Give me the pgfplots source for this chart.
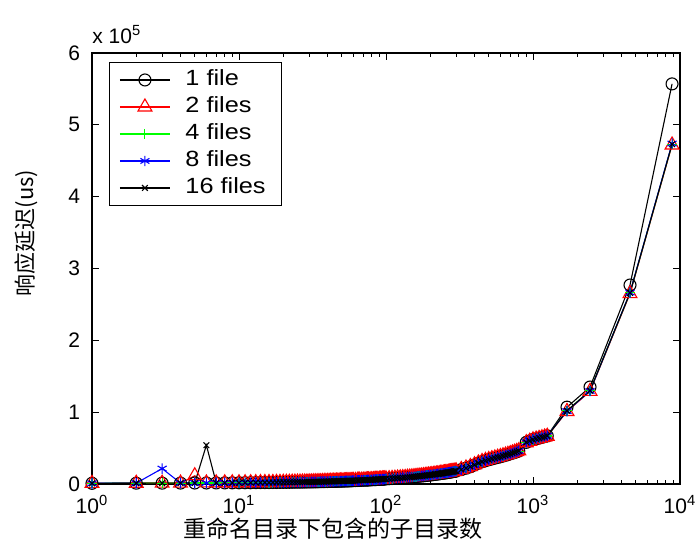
\documentclass[border=0pt]{standalone}
\usepackage{fontspec}
\setmainfont{Liberation Sans}
\newfontfamily\cjk{Noto Sans CJK SC}
\newfontfamily\legfont{Liberation Sans}[FakeStretch=1.15]
\usepackage{pgfplots}
\usepackage{pgfplotstable}
\pgfplotsset{compat=1.18}

\pgfplotstableread{
x f1 f2 f4 f8 f16
1 1000 900 950 980 920
2 1150 1050 1100 1200 1080
3 1200 1150 1180 21500 1220
4 1300 1250 1280 1350 1260
5 1400 11500 1380 1420 1350
6 1450 1500 1420 1480 54000
7 1500 1560 1480 1530 1520
8 1560 1620 1540 1600 1580
9 1620 1680 1600 1650 1640
10 1680 1740 1650 1710 1700
11 1740 1800 1710 1760 1750
12 1800 1860 1770 1820 1810
13 1860 1920 1830 1880 1870
14 1920 1980 1890 1940 1930
15 1980 2040 1950 2000 1990
16 2040 2100 2010 2060 2050
17 2100 2160 2070 2120 2110
18 2160 2220 2130 2180 2170
19 2220 2280 2190 2240 2230
20 2280 2340 2250 2300 2290
21 2340 2400 2310 2360 2350
22 2400 2460 2370 2420 2410
23 2460 2520 2430 2480 2470
24 2520 2580 2490 2540 2530
25 2580 2640 2550 2600 2590
26 2640 2700 2610 2660 2650
27 2700 2760 2670 2720 2710
28 2760 2820 2730 2780 2770
29 2820 2880 2790 2840 2830
30 2880 2940 2850 2900 2890
31 2941 3011 2901 2961 2951
32 3000 3080 2960 3020 3010
33 3063 3133 3023 3083 3073
34 3120 3200 3090 3150 3140
35 3185 3255 3145 3205 3195
36 3250 3310 3200 3270 3260
37 3307 3377 3267 3327 3317
38 3370 3440 3330 3390 3380
39 3429 3499 3389 3449 3439
40 3500 3560 3450 3520 3500
41 3551 3621 3511 3571 3561
42 3620 3690 3580 3640 3630
43 3673 3743 3633 3693 3683
44 3740 3810 3700 3760 3750
45 3795 3865 3755 3815 3805
46 3860 3930 3820 3880 3870
47 3917 3987 3877 3937 3927
48 3990 4060 3950 4010 4000
49 4039 4109 3999 4059 4049
50 4100 4180 4070 4130 4120
51 4161 4231 4121 4181 4171
52 4230 4300 4190 4250 4240
53 4283 4353 4243 4303 4293
54 4350 4420 4310 4370 4360
55 4405 4475 4365 4425 4415
56 4470 4540 4430 4490 4480
57 4527 4597 4487 4547 4537
58 4590 4660 4550 4610 4600
59 4649 4719 4609 4669 4659
60 4710 4780 4670 4730 4720
62 4830 4910 4790 4860 4840
64 4950 5030 4910 4980 4960
65 5000 5080 4960 5030 5010
66 5070 5150 5030 5100 5080
68 5190 5270 5150 5220 5200
70 5300 5380 5260 5330 5310
72 5430 5510 5390 5460 5440
74 5550 5630 5510 5580 5560
75 5600 5690 5560 5630 5610
76 5670 5750 5630 5700 5680
78 5790 5870 5750 5820 5800
80 5900 5990 5860 5930 5910
82 6030 6110 5990 6060 6040
84 6150 6230 6110 6180 6160
85 6200 6290 6160 6230 6210
86 6270 6350 6230 6300 6280
88 6390 6470 6350 6420 6400
90 6500 6600 6460 6540 6510
92 6630 6710 6590 6660 6640
94 6750 6830 6710 6780 6760
95 6800 6900 6760 6840 6810
96 6870 6950 6830 6900 6880
98 6990 7070 6950 7020 7000
100 7100 7200 7050 7140 7110
105 7375 7480 7325 7425 7385
110 7650 7750 7600 7700 7660
115 7925 8030 7875 7975 7935
120 8200 8300 8150 8250 8210
125 8475 8580 8425 8525 8485
130 8750 8860 8700 8800 8760
135 9025 9130 8975 9075 9035
140 9300 9410 9250 9350 9310
145 9575 9680 9525 9625 9585
150 9850 9960 9800 9900 9860
155 10125 10230 10075 10175 10135
160 10400 10510 10350 10450 10410
165 10675 10780 10625 10725 10685
170 10950 11060 10900 11000 10960
175 11225 11330 11175 11275 11235
180 11500 11620 11450 11550 11510
185 11775 11890 11725 11825 11785
190 12050 12170 12000 12100 12060
195 12325 12440 12275 12375 12335
200 12600 12720 12550 12650 12610
205 12875 12990 12825 12925 12885
210 13150 13270 13100 13200 13160
215 13425 13550 13375 13475 13435
220 13700 13830 13650 13750 13710
225 13975 14100 13925 14025 13985
230 14250 14380 14200 14300 14260
235 14525 14650 14475 14575 14535
240 14800 14930 14750 14850 14810
245 15075 15210 15025 15125 15085
250 15350 15490 15300 15400 15360
255 15625 15760 15575 15675 15635
260 15900 16040 15850 15950 15910
265 16175 16310 16125 16225 16185
270 16450 16590 16400 16500 16460
275 16725 16870 16675 16775 16735
280 17000 17150 16950 17050 17010
285 17275 17420 17225 17325 17285
290 17550 17700 17500 17600 17560
295 17825 17970 17775 17875 17835
300 18100 18250 18050 18150 18110
325 20000 20300 19800 20100 20050
350 22000 22300 21800 22100 22050
375 24000 24300 23800 24100 24050
400 26500 26800 26300 26600 26550
425 29000 29300 28800 29100 29050
450 31000 31300 30800 31100 31050
475 32500 32800 32300 32600 32550
500 33800 34100 33600 33900 33850
525 35000 35300 34800 35100 35050
550 36000 36300 35800 36100 36050
575 37000 37300 36800 37100 37050
600 38000 38300 37800 38100 38050
625 39000 39300 38800 39100 39050
650 40000 40300 39800 40100 40050
675 41000 41300 40800 41100 41050
700 42000 42300 41800 42100 42050
725 43000 43300 42800 43100 43050
750 44000 44300 43800 44100 44050
775 45000 45300 44800 45100 45050
800 46000 46300 45800 46100 46050
900 58000 57500 57800 58200 57900
950 60000 59500 59800 60200 59900
1000 62000 61500 61800 62200 61900
1050 63000 62500 62800 63200 62900
1100 64000 63500 63800 64200 63900
1150 65000 64500 64800 65200 64900
1200 66000 65500 65800 66200 65900
1250 67000 66500 66800 67200 66900
1703 107000 101000 102000 101500 102000
2443 135000 129000 130000 129500 130000
4570 277000 265000 266000 266500 266000
8830 557000 472000 473000 474000 473000
}\datatable

\begin{document}
\begin{tikzpicture}
\begin{axis}[
  name=ax,
  scale only axis,
  width=294pt, height=215.5pt,
  xmode=log,
  xmin=1, xmax=10000, ymin=0, ymax=6,
  clip=false,
  xtick={1,10,100,1000,10000},
  xticklabels={10\textsuperscript{0},10\textsuperscript{1},10\textsuperscript{2},10\textsuperscript{3},10\textsuperscript{4}},
  minor xtick={2,3,4,5,6,7,8,9,20,30,40,50,60,70,80,90,200,300,400,500,600,700,800,900,2000,3000,4000,5000,6000,7000,8000,9000},
  ytick={0,1,2,3,4,5,6},
  yticklabels={0,1,2,3,4,5,6},
  scaled y ticks=false,
  tick align=inside,
  major tick length=3.5pt,
  minor tick length=2.2pt,
  axis line style={line width=0.6pt},
  every tick/.style={black, line width=0.5pt},
  tick label style={font=\fontsize{10.5}{12}\selectfont},
  xticklabel style={yshift=-2pt},
  yticklabel style={xshift=-2.5pt},
  xlabel={\cjk 重命名目录下包含的子目录数},
  ylabel={\cjk 响应延迟(us)},
  xlabel style={at={(axis description cs:0.41,-0.104)}, anchor=center, font=\fontsize{11.5}{13}\selectfont},
  ylabel style={at={(axis description cs:-0.112,0.582)}, anchor=center, font=\fontsize{11}{13}\selectfont},
  legend cell align=left,
  legend style={at={(axis description cs:0.0289,0.979)}, anchor=north west,
    draw=black, fill=white, font=\legfont\fontsize{11}{13}\selectfont,
    inner xsep=5pt, inner ysep=2pt,
    nodes={inner xsep=3pt, inner ysep=1.9pt, text height=7.6pt, text depth=2.1pt},
    /tikz/every odd column/.append style={column sep=4.5pt}},
  legend image code/.code={\draw[mark repeat=2,mark phase=2,#1] plot coordinates {(0pt,0pt) (12.5pt,0pt) (25pt,0pt)};},
]
\addplot[black, line width=0.55pt, mark=o, mark size=3pt, mark options={solid, line width=0.55pt}]
  table[x=x, y expr=\thisrow{f1}/100000] {\datatable};
\addlegendentry{1 file}
\addplot[red, line width=0.55pt, mark=triangle, mark size=4pt, mark options={solid, line width=0.55pt}]
  table[x=x, y expr=\thisrow{f2}/100000] {\datatable};
\addlegendentry{2 files}
\addplot[green, line width=0.55pt, mark=+, mark size=2.5pt, mark options={solid, line width=0.55pt}]
  table[x=x, y expr=\thisrow{f4}/100000] {\datatable};
\addlegendentry{4 files}
\addplot[blue, line width=0.55pt, mark=asterisk, mark size=2.6pt, mark options={solid, line width=0.55pt}]
  table[x=x, y expr=\thisrow{f8}/100000] {\datatable};
\addlegendentry{8 files}
\addplot[black, line width=0.55pt, mark=x, mark size=2pt, mark options={solid, line width=0.55pt}]
  table[x=x, y expr=\thisrow{f16}/100000] {\datatable};
\addlegendentry{16 files}
\end{axis}
\node[anchor=base west, inner sep=0pt, font=\fontsize{10.5}{12}\selectfont] at ([yshift=5pt]ax.north west) {x 10\textsuperscript{5}};
\pgfresetboundingbox
\path ([xshift=-46pt,yshift=-28.5pt]ax.south west) rectangle ([xshift=8.5pt,yshift=26.5pt]ax.north east);
\end{tikzpicture}
\end{document}
